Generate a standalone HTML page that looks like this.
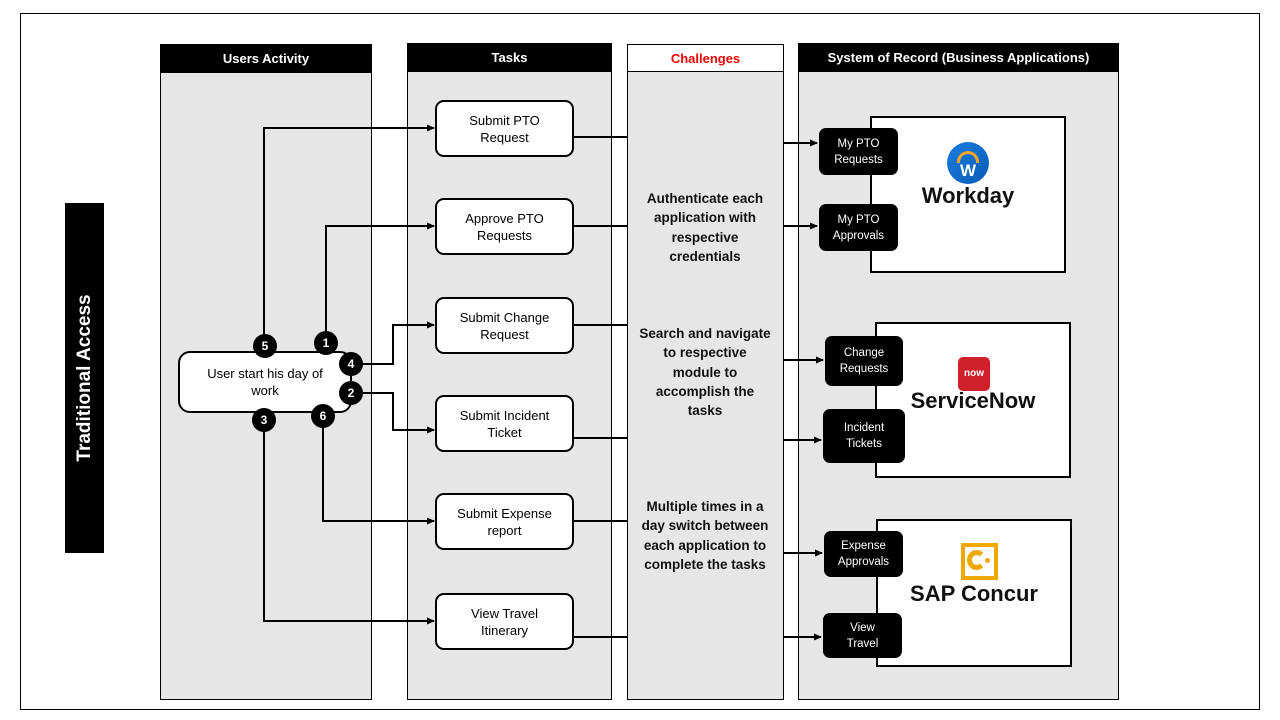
<!DOCTYPE html>
<html><head><meta charset="utf-8"><style>
*{margin:0;padding:0;box-sizing:border-box}
body{width:1280px;height:720px;background:#fff;position:relative;overflow:hidden;font-family:"Liberation Sans",sans-serif}
.a{position:absolute}
.col{position:absolute;background:#e6e6e6;border:1px solid #000}
.hd{position:absolute;background:#000;color:#fff;font-weight:bold;font-size:13px;display:flex;align-items:center;justify-content:center}
.task{position:absolute;background:#fff;border:2px solid #000;border-radius:9px;font-size:13px;display:flex;align-items:center;justify-content:center;text-align:center;line-height:17px}
.pill{position:absolute;background:#000;color:#fff;border-radius:7px;font-size:11.5px;display:flex;align-items:center;justify-content:center;text-align:center;line-height:16px}
.sys{position:absolute;background:#fff;border:2px solid #000}
.ch{position:absolute;left:615px;width:180px;text-align:center;font-weight:bold;font-size:13.5px;line-height:19.3px;color:#111;white-space:nowrap}
.num{position:absolute;width:24px;height:24px;border-radius:50%;background:#000;color:#fff;font-weight:bold;font-size:12px;display:flex;align-items:center;justify-content:center}
.brand{position:absolute;font-weight:bold;font-size:21px;text-align:center;color:#111}
</style></head><body>
<div class="a" style="left:20px;top:13px;width:1240px;height:697px;border:1px solid #000"></div>
<div class="a" style="left:65px;top:203px;width:39px;height:350px;background:#000"></div>
<div class="a" style="left:-5px;top:366px;width:180px;height:24px;transform:rotate(-90deg);color:#fff;font-weight:bold;font-size:19px;text-align:center;line-height:24px;white-space:nowrap">Traditional Access</div>

<div class="col" style="left:160px;top:44px;width:212px;height:656px"></div>
<div class="hd" style="left:160px;top:44px;width:212px;height:29px">Users Activity</div>
<div class="col" style="left:407px;top:43px;width:205px;height:657px"></div>
<div class="hd" style="left:407px;top:43px;width:205px;height:29px">Tasks</div>
<div class="col" style="left:627px;top:44px;width:157px;height:656px"></div>
<div class="a" style="left:627px;top:44px;width:157px;height:28px;background:#fff;border:1px solid #000;color:#e00;font-weight:bold;font-size:13px;display:flex;align-items:center;justify-content:center">Challenges</div>
<div class="col" style="left:798px;top:43px;width:321px;height:657px"></div>
<div class="hd" style="left:798px;top:43px;width:321px;height:29px">System of Record (Business Applications)</div>

<svg class="a" style="left:0;top:0" width="1280" height="720">
<defs><marker id="ar" markerWidth="8" markerHeight="8" refX="7" refY="4" orient="auto" markerUnits="userSpaceOnUse"><path d="M0,0.5 L8,4 L0,7.5z" fill="#000"/></marker></defs>
<g stroke="#000" stroke-width="2" fill="none">
<path d="M264,346 V128 H434" marker-end="url(#ar)"/>
<path d="M326,343 V226 H434" marker-end="url(#ar)"/>
<path d="M362,364 H393 V325 H434" marker-end="url(#ar)"/>
<path d="M362,393 H393 V430 H434" marker-end="url(#ar)"/>
<path d="M323,427 V521 H434" marker-end="url(#ar)"/>
<path d="M264,431 V621 H434" marker-end="url(#ar)"/>
<path d="M573,137 H627"/><path d="M573,226 H627"/><path d="M573,325 H627"/>
<path d="M573,438 H627"/><path d="M573,521 H627"/><path d="M573,637 H627"/>
<path d="M784,143 H817" marker-end="url(#ar)"/>
<path d="M784,226 H817" marker-end="url(#ar)"/>
<path d="M784,360 H823" marker-end="url(#ar)"/>
<path d="M784,440 H821" marker-end="url(#ar)"/>
<path d="M784,553 H822" marker-end="url(#ar)"/>
<path d="M784,637 H821" marker-end="url(#ar)"/>
</g></svg>

<div class="task" style="left:178px;top:351px;width:174px;height:62px;border-radius:12px">User start his day of<br>work</div>
<div class="num" style="left:253px;top:334px">5</div>
<div class="num" style="left:314px;top:331px">1</div>
<div class="num" style="left:339px;top:352px">4</div>
<div class="num" style="left:339px;top:381px">2</div>
<div class="num" style="left:252px;top:408px">3</div>
<div class="num" style="left:311px;top:404px">6</div>

<div class="task" style="left:435px;top:100px;width:139px;height:57px">Submit PTO<br>Request</div>
<div class="task" style="left:435px;top:198px;width:139px;height:57px">Approve PTO<br>Requests</div>
<div class="task" style="left:435px;top:297px;width:139px;height:57px">Submit Change<br>Request</div>
<div class="task" style="left:435px;top:395px;width:139px;height:57px">Submit Incident<br>Ticket</div>
<div class="task" style="left:435px;top:493px;width:139px;height:57px">Submit Expense<br>report</div>
<div class="task" style="left:435px;top:593px;width:139px;height:57px">View Travel<br>Itinerary</div>

<div class="ch" style="top:189px">Authenticate each<br>application with<br>respective<br>credentials</div>
<div class="ch" style="top:324px">Search and navigate<br>to respective<br>module to<br>accomplish the<br>tasks</div>
<div class="ch" style="top:497px">Multiple times in a<br>day switch between<br>each application to<br>complete the tasks</div>

<div class="sys" style="left:870px;top:116px;width:196px;height:157px"></div>
<div class="a" style="left:947px;top:142px;width:42px;height:42px;border-radius:50%;background:linear-gradient(135deg,#1a7de0,#0a5bb5)"></div>
<div class="a" style="left:957px;top:151px;width:22px;height:12px;border:3px solid #f5a623;border-bottom:none;border-radius:12px 12px 0 0"></div>
<div class="a" style="left:947px;top:161px;width:42px;text-align:center;color:#fff;font-size:17px;font-weight:bold">W</div>
<div class="brand" style="left:870px;top:183px;width:196px;font-size:22px">Workday</div>

<div class="sys" style="left:875px;top:322px;width:196px;height:156px"></div>
<div class="a" style="left:958px;top:357px;width:32px;height:34px;background:#d0202b;border-radius:5px;color:#fff;font-size:10px;font-weight:bold;text-align:center;line-height:34px">now</div>
<div class="brand" style="left:875px;top:388px;width:196px;font-size:22px">ServiceNow</div>

<div class="sys" style="left:876px;top:519px;width:196px;height:148px"></div>
<div class="a" style="left:961px;top:543px;width:37px;height:37px;border:4px solid #f0a800;background:#fff"></div>
<div class="a" style="left:967px;top:550px;width:19px;height:20px;border:5px solid #f0a800;border-right-color:transparent;border-radius:50%"></div>
<div class="a" style="left:985px;top:558px;width:5px;height:5px;border-radius:50%;background:#f0a800"></div>
<div class="brand" style="left:876px;top:581px;width:196px;font-size:22px">SAP Concur</div>

<div class="pill" style="left:819px;top:128px;width:79px;height:47px">My PTO<br>Requests</div>
<div class="pill" style="left:819px;top:204px;width:79px;height:47px">My PTO<br>Approvals</div>
<div class="pill" style="left:825px;top:336px;width:78px;height:50px">Change<br>Requests</div>
<div class="pill" style="left:823px;top:409px;width:82px;height:54px">Incident<br>Tickets</div>
<div class="pill" style="left:824px;top:531px;width:79px;height:46px">Expense<br>Approvals</div>
<div class="pill" style="left:823px;top:613px;width:79px;height:45px">View<br>Travel</div>
</body></html>
